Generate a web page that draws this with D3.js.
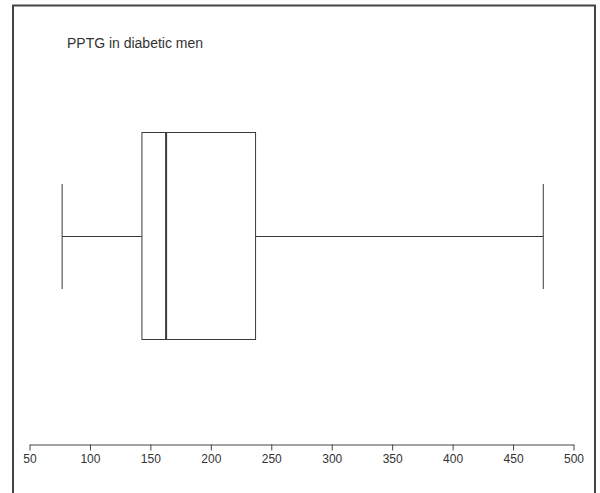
<!DOCTYPE html>
<html>
<head>
<meta charset="utf-8">
<script src="https://cdn.jsdelivr.net/npm/d3@7"></script>
<style>
  body { margin: 0; background: #fff; }
  svg { display: block; }
</style>
</head>
<body>
<svg width="600" height="493"></svg>
<script>
// PPTG summary
const statNames = ["min", "q1", "median", "q3", "max"];
const statValues = [77, 143, 163, 237, 475];
const tickValues = [50, 100, 150, 200, 250, 300, 350, 400, 450, 500];
const title = "PPTG in diabetic men";

const svg = d3.select("svg");
const ink = "#3a3a3a";

// outer frame (bottom edge runs off the picture)
svg.append("path")
    .attr("d", "M13,500 L13,5.5 L595,5.5 L595,500")
    .attr("fill", "none")
    .attr("stroke", "#444")
    .attr("stroke-width", 2);

svg.append("text")
    .attr("x", 67)
    .attr("y", 48)
    .attr("font-family", "Liberation Sans, Arial, sans-serif")
    .attr("font-size", 14)
    .attr("textLength", 136)
    .attr("fill", "#333")
    .text(title);

const x = d3.scaleLinear().domain([50, 500]).range([29.5, 573.5]);

const stats = {};
statNames.forEach((n, i) => stats[n] = statValues[i]);

const midY = 236.5, boxTop = 132.5, boxBot = 339.5, capTop = 184, capBot = 289;

const g = svg.append("g").attr("stroke", ink).attr("fill", "none");

// whiskers
g.append("line").attr("x1", x(stats.min)).attr("x2", x(stats.q1)).attr("y1", midY).attr("y2", midY);
g.append("line").attr("x1", x(stats.q3)).attr("x2", x(stats.max)).attr("y1", midY).attr("y2", midY);
g.append("line").attr("x1", x(stats.min)).attr("x2", x(stats.min)).attr("y1", capTop).attr("y2", capBot);
g.append("line").attr("x1", x(stats.max)).attr("x2", x(stats.max)).attr("y1", capTop).attr("y2", capBot);

// box
g.append("rect")
    .attr("x", x(stats.q1))
    .attr("y", boxTop)
    .attr("width", x(stats.q3) - x(stats.q1))
    .attr("height", boxBot - boxTop);

g.append("line")
    .attr("x1", x(stats.median)).attr("x2", x(stats.median))
    .attr("y1", boxTop).attr("y2", boxBot)
    .attr("stroke-width", 2);

// axis
const axis = svg.append("g")
    .attr("transform", "translate(0,444.5)")
    .call(d3.axisBottom(x).tickValues(tickValues).tickSize(6).tickPadding(4).tickSizeOuter(0));
axis.select(".domain").attr("stroke", "#444");
axis.selectAll(".tick line").attr("stroke", "#444");
axis.selectAll(".tick text")
    .attr("font-family", "Liberation Sans Narrow, Arial Narrow, sans-serif")
    .attr("font-size", 12)
    .attr("fill", "#333");
</script>
</body>
</html>
